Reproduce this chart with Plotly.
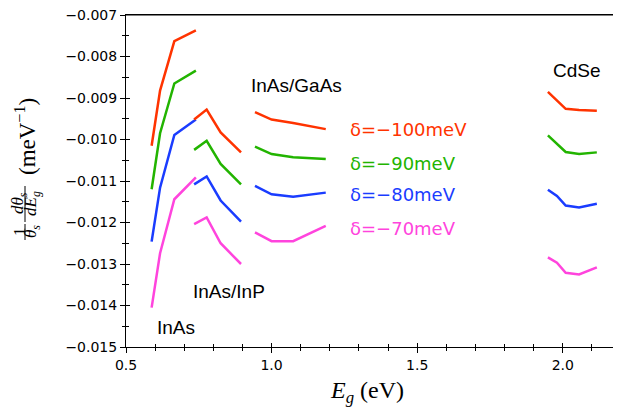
import plotly.graph_objects as go

# ---- data ----
deltas = ["δ=−100meV", "δ=−90meV", "δ=−80meV", "δ=−70meV"]
colors = ["#ff3300", "#22b400", "#1a3cff", "#ff44dd"]

x_inas = [0.588, 0.617, 0.666, 0.740]
inas_m100 = [-0.01015, -0.00882, -0.00763, -0.00737]
inas_m90 = [-0.01120, -0.00985, -0.00865, -0.00834]
inas_m80 = [-0.01246, -0.01116, -0.00989, -0.00952]
inas_m70 = [-0.01405, -0.01274, -0.01144, -0.01091]

x_inp = [0.734, 0.777, 0.825, 0.895]
inp_m100 = [-0.00952, -0.00928, -0.00983, -0.01031]
inp_m90 = [-0.01025, -0.01003, -0.01059, -0.01108]
inp_m80 = [-0.01108, -0.01089, -0.01147, -0.01198]
inp_m70 = [-0.01204, -0.01188, -0.01250, -0.01300]

x_gaas = [0.943, 1.000, 1.074, 1.186]
gaas_m100 = [-0.00934, -0.00952, -0.00960, -0.00975]
gaas_m90 = [-0.01017, -0.01035, -0.01043, -0.01047]
gaas_m80 = [-0.01112, -0.01132, -0.01138, -0.01128]
gaas_m70 = [-0.01224, -0.01245, -0.01245, -0.01208]

x_cdse = [1.949, 1.980, 2.010, 2.056, 2.117]
cdse_m100 = [-0.00885, -0.00906, -0.00926, -0.00929, -0.00931]
cdse_m90 = [-0.00990, -0.01010, -0.01030, -0.01035, -0.01031]
cdse_m80 = [-0.01121, -0.01136, -0.01159, -0.01164, -0.01155]
cdse_m70 = [-0.01284, -0.01297, -0.01321, -0.01325, -0.01308]

y_tickvals = [-0.015, -0.014, -0.013, -0.012, -0.011, -0.010, -0.009, -0.008, -0.007]
y_ticktext = ["−0.015", "−0.014", "−0.013", "−0.012", "−0.011", "−0.010",
              "−0.009", "−0.008", "−0.007"]
x_tickvals = [0.5, 1.0, 1.5, 2.0]
x_ticktext = ["0.5", "1.0", "1.5", "2.0"]

groups = [
    (x_inas, [inas_m100, inas_m90, inas_m80, inas_m70]),
    (x_inp, [inp_m100, inp_m90, inp_m80, inp_m70]),
    (x_gaas, [gaas_m100, gaas_m90, gaas_m80, gaas_m70]),
    (x_cdse, [cdse_m100, cdse_m90, cdse_m80, cdse_m70]),
]

x_range = [0.5, 2.2]
y_range = [-0.015000001, -0.006999999]

# page body has an 8px margin; the figure is drawn offset by it
OFF = 8
W, H = 621 - OFF, 408 - OFF
L, R, T, B = 126 - OFF, 0, 15 - OFF, 61

fig = go.Figure()
for xs, series in groups:
    for ys, col in zip(series, colors):
        fig.add_trace(go.Scatter(x=xs, y=ys, mode="lines",
                                 line=dict(color=col, width=2.5),
                                 showlegend=False, hoverinfo="skip"))
# dummy trace for overlay axes (inside ticks)
fig.add_trace(go.Scatter(x=[None], y=[None], xaxis="x2", yaxis="y2",
                         showlegend=False, hoverinfo="skip"))

tickfont = dict(family="DejaVu Sans", size=14, color="black")
common = dict(showgrid=False, zeroline=False, linecolor="black", linewidth=1,
              ticklabeloverflow="allow")

fig.update_layout(
    width=W, height=H,
    margin=dict(l=L, r=R, t=T, b=B, autoexpand=False),
    plot_bgcolor="white", paper_bgcolor="white",
    xaxis=dict(range=x_range, tickmode="array", tickvals=x_tickvals, ticktext=x_ticktext,
               ticks="outside", ticklen=5, tickcolor="black", tickwidth=1,
               showline=True, mirror=True, tickfont=tickfont,
               minor=dict(dtick=0.1, tick0=0.5, ticks="outside", ticklen=3, tickcolor="black"),
               **common),
    yaxis=dict(range=y_range, tickmode="array", tickvals=y_tickvals, ticktext=y_ticktext,
               ticks="outside", ticklen=5, tickcolor="black", tickwidth=1,
               showline=True, mirror=False, tickfont=tickfont,
               minor=dict(dtick=0.0005, tick0=-0.015, ticks="outside", ticklen=3, tickcolor="black"),
               **common),
    xaxis2=dict(range=x_range, overlaying="x", anchor="y2", side="bottom",
                tickmode="array", tickvals=x_tickvals,
                ticks="inside", ticklen=4, tickcolor="black",
                showticklabels=False, showline=False,
                minor=dict(dtick=0.1, tick0=0.5, ticks="inside", ticklen=3, tickcolor="black"),
                showgrid=False, zeroline=False),
    yaxis2=dict(range=y_range, overlaying="y", anchor="x2", side="left",
                tickmode="array", tickvals=y_tickvals,
                ticks="inside", ticklen=4, tickcolor="black",
                showticklabels=False, showline=False,
                minor=dict(dtick=0.0005, tick0=-0.015, ticks="inside", ticklen=3, tickcolor="black"),
                showgrid=False, zeroline=False),
)

# top frame line
fig.add_shape(type="line", xref="paper", yref="paper", x0=0, x1=1, y0=1, y1=1,
              line=dict(color="black", width=1), layer="above")

PW, PH = W - L - R, H - T - B

# helpers: target pixel positions are in window coordinates
def px2data(px, py):
    x = x_range[0] + (px - OFF - L) / PW * (x_range[1] - x_range[0])
    y = y_range[1] - (py - OFF - T) / PH * (y_range[1] - y_range[0])
    return x, y

def px2paper(px, py):
    return (px - OFF - L) / PW, (H - B - (py - OFF)) / PH

lab_font = dict(family="Liberation Sans", size=19, color="black")
for text, (px, py) in [("InAs/GaAs", (296.6, 85.5)), ("InAs/InP", (229, 291)),
                       ("InAs", (176.3, 327)), ("CdSe", (577, 70))]:
    x, y = px2data(px, py)
    fig.add_annotation(x=x, y=y, text=text, showarrow=False, font=lab_font,
                       xanchor="center", yanchor="middle")

for text, col, py in zip(deltas, colors, [129, 163.5, 194.5, 228.5]):
    x, y = px2data(348, py)
    fig.add_annotation(x=x, y=y, text=text, showarrow=False,
                       font=dict(family="DejaVu Sans", size=18, color=col),
                       xanchor="left", yanchor="middle")

# x-axis title
xp, yp = px2paper(367, 392)
fig.add_annotation(xref="paper", yref="paper", x=xp, y=yp,
                   text="<i>E</i><sub><i>g</i></sub> (eV)", showarrow=False,
                   font=dict(family="Liberation Serif", size=24, color="black"),
                   xanchor="center", yanchor="middle")

# y-axis title (built as rotated fraction)
serif = "Liberation Serif"
pieces = [
    ("1", 19, 232, 17),
    ("<i>θ</i><sub><i>s</i></sub>", 32, 232, 17),
    ("<i>dθ</i><sub><i>s</i></sub>", 19, 203, 17),
    ("<i>dE</i><sub><i>g</i></sub>", 32, 204, 17),
    ("(meV<sup>−1</sup>)", 25, 137, 23),
]
for text, px, py, sz in pieces:
    xp, yp = px2paper(px, py)
    fig.add_annotation(xref="paper", yref="paper", x=xp, y=yp, text=text,
                       textangle=-90, showarrow=False,
                       font=dict(family=serif, size=sz, color="black"),
                       xanchor="center", yanchor="middle")
for (y0, y1) in [(224, 240), (186, 222)]:
    xa, ya0 = px2paper(25, y0)
    _, ya1 = px2paper(25, y1)
    fig.add_shape(type="line", xref="paper", yref="paper", x0=xa, x1=xa,
                  y0=ya0, y1=ya1, line=dict(color="black", width=1))

fig.write_html("out.html")
